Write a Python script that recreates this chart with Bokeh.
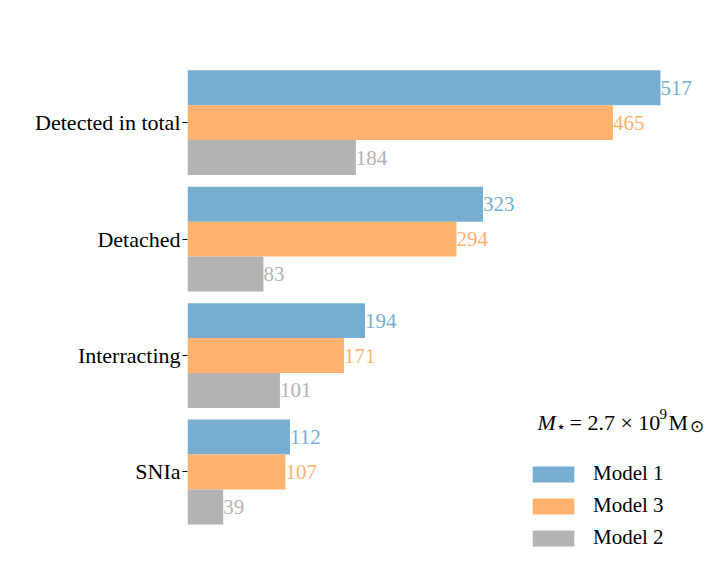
from bokeh.plotting import figure
from bokeh.models import ColumnDataSource, FixedTicker, Label, Legend, LegendItem
from bokeh.embed import file_html
from bokeh.resources import INLINE
from bokeh.core.properties import value

categories = ["SNIa", "Interracting", "Detached", "Detected in total"]
model1 = [112, 194, 323, 517]
model3 = [107, 171, 294, 465]
model2 = [39, 101, 83, 184]
series_names = ["Model 1", "Model 3", "Model 2"]
colors = ["#78add2", "#ffb26e", "#b3b3b3"]

FONT = "Liberation Serif"
pos = list(range(len(categories)))
offsets = [0.3, 0.0, -0.3]
series = [model1, model3, model2]

p = figure(width=704, height=560, output_backend="svg", toolbar_location=None,
           x_range=(0, 565.1), y_range=(-0.7, 3.8), x_axis_location=None,
           min_border_left=187, min_border_right=0, min_border_top=29, min_border_bottom=7)
p.outline_line_color = None
p.xgrid.visible = False
p.ygrid.visible = False

renderers = []
for vals, off, col in zip(series, offsets, colors):
    src = ColumnDataSource(dict(y=[q + off for q in pos], v=vals, t=[str(v) for v in vals]))
    r = p.hbar(y="y", right="v", left=0, height=0.3, source=src, fill_color=col, line_color=None)
    renderers.append(r)
    p.text(x="v", y="y", text="t", source=src, text_color=col, text_align="left",
           text_baseline="middle", text_font=value(FONT), text_font_size="21px")

yax = p.yaxis[0]
yax.ticker = FixedTicker(ticks=pos)
yax.major_label_overrides = {q: c for q, c in zip(pos, categories)}
yax.axis_line_color = None
yax.minor_tick_line_color = None
yax.major_tick_in = 0
yax.major_tick_out = 5
yax.major_tick_line_color = "black"
yax.major_label_standoff = 2
yax.major_label_text_font = FONT
yax.major_label_text_font_size = "22px"
yax.major_label_text_color = "black"

legend = Legend(items=[LegendItem(label=n, renderers=[r]) for n, r in zip(series_names, renderers)],
                location=(340, 3), padding=0, margin=0, spacing=7,
                glyph_width=52, glyph_height=20, label_height=24, label_standoff=14,
                label_text_font=FONT, label_text_font_size="21px", label_text_color="black",
                border_line_color=None, background_fill_alpha=0)
p.add_layout(legend)

ax, ay = 382.6, 0.421
parts = [("M", 0, 0, "22px", "italic"), ("\u22c6", 18, -4, "16px", "normal"),
         ("= 2.7 \u00d7 10", 32, 0, "22px", "normal"), ("9", 122, 9, "15px", "normal"),
         ("M", 131, 0, "22px", "normal"), ("\u2299", 152, -4, "17px", "normal")]
for t, dx, dy, fs, st in parts:
    p.add_layout(Label(x=ax, y=ay, x_offset=dx, y_offset=dy, text=t, text_font=FONT,
                       text_font_size=fs, text_font_style=st, text_baseline="alphabetic",
                       text_color="black"))

open("out.html", "w").write(file_html(p, INLINE))
